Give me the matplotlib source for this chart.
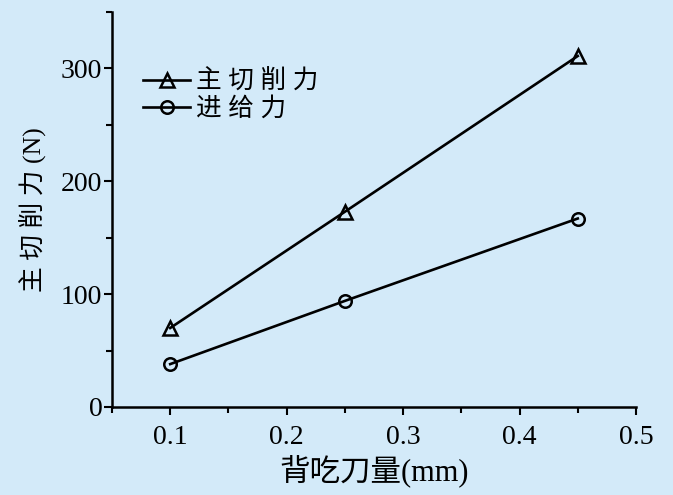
import matplotlib
matplotlib.use("Agg")
import matplotlib.pyplot as plt
from matplotlib.ticker import MultipleLocator

plt.rcParams['font.family'] = ['Liberation Serif', 'Noto Sans CJK SC', 'DejaVu Sans']

depth = [0.1, 0.25, 0.45]
main_force = [70, 173, 311]
feed_force = [38, 94, 167]
labels = ['主切削力', '进给力']
x_ticks = [0.1, 0.2, 0.3, 0.4, 0.5]
x_ticklabels = ['0.1', '0.2', '0.3', '0.4', '0.5']

bg = '#d3eaf9'
fig = plt.figure(figsize=(6.73, 4.95), dpi=100, facecolor=bg)
ax = fig.add_axes([0.1664, 0.1778, 0.7786, 0.798])
ax.set_facecolor(bg)

ax.plot(depth, main_force, '-^', color='black', lw=1.9, ms=10, mfc='none', mec='black', mew=1.8,
        label=' '.join(labels[0]))
ax.plot(depth, feed_force, '-o', color='black', lw=1.9, ms=9, mfc='none', mec='black', mew=1.8,
        label=' '.join(labels[1]))

ax.set_xlim(0.05, 0.5)
ax.set_ylim(0, 350)
ax.xaxis.set_minor_locator(MultipleLocator(0.05))
ax.yaxis.set_major_locator(MultipleLocator(100))
ax.yaxis.set_minor_locator(MultipleLocator(50))
ax.set_xticks(x_ticks)
ax.set_xticklabels(x_ticklabels)

for s in ['top', 'right']:
    ax.spines[s].set_visible(False)
for s in ['left', 'bottom']:
    ax.spines[s].set_linewidth(1.8)

ax.tick_params(which='major', direction='out', length=6, width=1.5, labelsize=20)
ax.tick_params(axis='x', which='major', pad=7)
ax.tick_params(axis='y', which='major', pad=1)
ax.tick_params(which='minor', direction='out', length=4, width=1.5)

ax.set_xlabel('背吃刀量(mm)', fontsize=22, labelpad=3)
ax.set_ylabel('主 切 削 力 (N)', fontsize=18.5, labelpad=10)

leg = ax.legend(loc='upper left', bbox_to_anchor=(0.059, 0.855), frameon=False,
                fontsize=18.5, handlelength=1.85, handletextpad=0.2, labelspacing=0.15,
                borderaxespad=0, borderpad=0)

fig.savefig('out.png', dpi=100, facecolor=bg)
